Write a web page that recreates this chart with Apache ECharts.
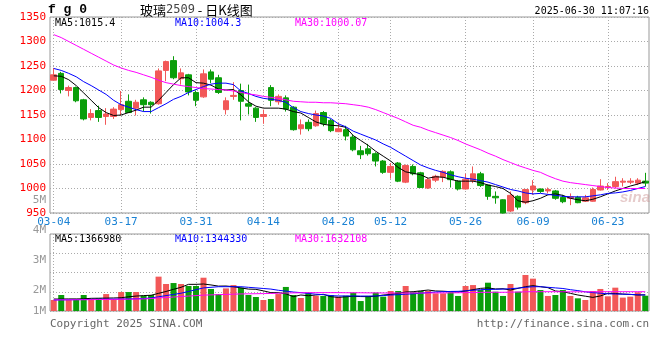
<!DOCTYPE html>
<html><head><meta charset="utf-8">
<script src="https://cdn.jsdelivr.net/npm/echarts@6/dist/echarts.min.js"></script>
<style>html,body{margin:0;padding:0;background:#fff}#c{width:660px;height:360px}</style>
</head><body><div id="c"></div>
<script>
const dates = ['03-04','03-05','03-06','03-07','03-10','03-11','03-12','03-13','03-14','03-17',
'03-18','03-19','03-20','03-21','03-24','03-25','03-26','03-27','03-28','03-31',
'04-01','04-02','04-03','04-07','04-08','04-09','04-10','04-11','04-14','04-15',
'04-16','04-17','04-18','04-21','04-22','04-23','04-24','04-25','04-28','04-29',
'04-30','05-06','05-07','05-08','05-09','05-12','05-13','05-14','05-15','05-16',
'05-19','05-20','05-21','05-22','05-23','05-26','05-27','05-28','05-29','05-30',
'06-03','06-04','06-05','06-06','06-09','06-10','06-11','06-12','06-13','06-16',
'06-17','06-18','06-19','06-20','06-23','06-24','06-25','06-26','06-27','06-30'];
const shownLabels = ['03-04','03-17','03-31','04-14','04-28','05-12','05-26','06-09','06-23'];
const priceTicks = {min: 950, max: 1350, interval: 50};

const opens = [1221,1235,1200,1206,1181,1145,1159,1147,1147,1161,
1178,1164,1181,1176,1173,1241,1261,1224,1232,1196,
1187,1238,1226,1161,1188,1200,1173,1164,1147,1206,
1177,1185,1166,1122,1135,1128,1155,1139,1116,1120,
1105,1077,1081,1071,1056,1033,1052,1013,1045,1032,
1001,1017,1023,1034,1015,999,1016,1030,1007,984,
977,954,984,971,997,999,995,995,982,980,
982,974,974,997,1002,1004,1013,1013,1011,1015];
const closes = [1232,1202,1206,1179,1142,1153,1145,1152,1162,1171,
1155,1176,1171,1171,1240,1259,1226,1236,1197,1180,
1234,1223,1196,1179,1190,1178,1168,1145,1151,1180,
1188,1162,1120,1130,1122,1153,1132,1118,1122,1107,
1079,1069,1071,1056,1033,1045,1015,1047,1030,1002,
1018,1025,1035,1018,999,1019,1030,1006,984,981,
950,986,962,998,1005,994,998,980,973,983,
971,981,998,1005,1004,1014,1015,1015,1017,1011];
const lows = [1221,1194,1188,1176,1139,1139,1136,1130,1142,1149,
1154,1149,1157,1153,1171,1219,1223,1212,1190,1168,
1185,1215,1193,1151,1181,1139,1151,1136,1132,1168,
1171,1157,1118,1110,1117,1126,1127,1115,1115,1098,
1076,1060,1067,1045,1030,1020,1013,1011,1027,1001,
999,1013,1013,1002,996,998,1011,1003,977,969,
949,952,957,968,987,991,990,977,970,966,
970,973,973,996,997,1000,1004,1009,1007,1004];
const highs = [1246,1238,1210,1208,1183,1162,1169,1164,1166,1199,
1192,1181,1186,1178,1245,1261,1270,1245,1234,1200,
1243,1243,1232,1186,1217,1214,1212,1166,1161,1211,
1192,1190,1168,1141,1141,1159,1158,1142,1134,1128,
1110,1087,1091,1074,1058,1052,1054,1049,1049,1034,
1022,1028,1037,1037,1017,1030,1045,1034,1008,994,
978,994,986,999,1017,1000,1002,997,987,990,
985,987,1002,1019,1011,1024,1021,1021,1021,1032];

const ma5 = [1230,1229,1222,1210,1195,1180,1165,1155,1149,1150,
1155,1160,1166,1166,1180,1196,1212,1226,1226,1216,
1215,1211,1203,1201,1202,1191,1177,1168,1164,1164,
1164,1162,1157,1154,1145,1136,1131,1129,1128,1125,
1108,1098,1088,1076,1066,1056,1043,1034,1031,1028,
1021,1024,1023,1019,1015,1015,1015,1012,1007,1004,
1000,990,975,972,975,980,987,989,986,980,
977,975,978,983,989,995,1000,1005,1009,1014];
const ma10 = [1245,1241,1235,1228,1218,1210,1201,1192,1180,1171,
1166,1161,1157,1157,1165,1173,1182,1188,1196,1202,
1208,1213,1215,1215,1212,1199,1194,1188,1184,1182,
1180,1176,1165,1157,1153,1150,1148,1143,1132,1126,
1117,1111,1105,1099,1091,1084,1075,1066,1057,1048,
1042,1037,1033,1028,1024,1021,1019,1016,1013,1008,
1003,998,995,991,989,990,988,986,984,983,
983,983,985,987,990,991,993,996,1000,1004];
const ma30 = [1314,1308,1300,1292,1284,1276,1268,1260,1252,1246,
1241,1237,1232,1227,1221,1216,1213,1210,1208,1206,
1204,1203,1202,1201,1199,1196,1193,1191,1188,1186,
1184,1181,1178,1177,1176,1176,1175,1175,1174,1173,
1171,1169,1166,1161,1155,1149,1143,1136,1129,1125,
1119,1114,1109,1104,1098,1091,1085,1079,1072,1066,
1059,1053,1047,1042,1037,1033,1026,1020,1015,1012,
1010,1008,1006,1004,1002,1001,1000,1000,1000,1000];

// volume in millions of lots
const vols = [0.93,1.35,0.93,1.01,1.35,1.01,1.07,1.43,1.01,1.60,
1.60,1.60,1.29,1.35,2.90,2.28,2.36,2.28,2.11,2.11,
2.81,1.86,1.43,1.91,2.19,1.97,1.35,1.18,0.93,1.01,
1.43,2.03,1.35,1.10,1.55,1.27,1.27,1.35,1.21,1.29,
1.55,0.84,1.27,1.55,1.21,1.69,1.69,2.11,1.58,1.69,
1.69,1.49,1.49,1.58,1.27,2.11,2.19,1.77,2.39,1.63,
1.27,2.28,1.63,3.04,2.73,1.77,1.27,1.35,1.77,1.27,
1.07,0.93,1.69,1.86,1.24,1.97,1.13,1.21,1.58,1.29];
const volMa5 = [1.01,1.01,1.02,1.02,1.03,1.07,1.08,1.09,1.10,1.12,
1.20,1.26,1.30,1.33,1.49,1.65,1.83,2.00,2.25,2.25,
2.28,2.20,2.10,2.11,2.05,1.95,1.85,1.83,1.70,1.55,
1.55,1.45,1.21,1.35,1.29,1.35,1.41,1.21,1.15,1.20,
1.24,1.22,1.21,1.25,1.35,1.40,1.49,1.60,1.63,1.70,
1.77,1.69,1.67,1.63,1.60,1.69,1.80,1.91,1.95,1.86,
1.88,1.77,1.91,2.05,2.14,2.05,1.97,1.69,1.63,1.49,
1.35,1.25,1.15,1.27,1.49,1.48,1.43,1.40,1.35,1.367];
const volMa10 = [0.93,0.94,0.95,0.96,0.97,0.98,0.99,1.00,1.00,1.01,
1.02,1.03,1.05,1.10,1.20,1.30,1.40,1.50,1.65,1.80,
1.95,2.00,2.05,2.05,2.05,2.05,2.00,1.95,1.90,1.85,
1.75,1.68,1.60,1.55,1.48,1.42,1.38,1.30,1.27,1.27,
1.27,1.26,1.26,1.27,1.30,1.35,1.38,1.42,1.45,1.50,
1.55,1.60,1.63,1.65,1.66,1.70,1.75,1.80,1.82,1.83,
1.85,1.88,1.93,2.00,2.05,2.05,2.00,1.95,1.90,1.80,
1.72,1.62,1.55,1.50,1.45,1.43,1.42,1.40,1.37,1.344];
const volMa30 = [0.93,0.94,0.94,0.95,0.95,0.96,0.97,0.97,0.98,0.99,
1.00,1.01,1.02,1.05,1.10,1.14,1.18,1.22,1.26,1.30,
1.34,1.36,1.38,1.40,1.42,1.44,1.45,1.46,1.47,1.48,
1.50,1.52,1.53,1.54,1.55,1.55,1.55,1.55,1.55,1.54,
1.54,1.54,1.53,1.53,1.52,1.52,1.52,1.52,1.52,1.52,
1.52,1.53,1.53,1.53,1.54,1.55,1.56,1.57,1.58,1.58,
1.58,1.59,1.60,1.62,1.63,1.63,1.63,1.63,1.62,1.62,
1.62,1.62,1.62,1.63,1.63,1.63,1.63,1.63,1.63,1.63];
const volTicks = {min: 0, max: 6.5, interval: 1.625};
const volLabels = [['5M', 200], ['4M', 230], ['3M', 260], ['2M', 290], ['1M', 311]];

const UP = '#f25858', DOWN = '#0a9e0a';
const MONO = '"DejaVu Sans Mono", "Liberation Mono", monospace';

const candleData = dates.map((d, i) => [opens[i], closes[i], lows[i], highs[i]]);
const volData = vols.map((v, i) => ({value: v, itemStyle: {color: closes[i] >= opens[i] ? UP : DOWN}}));
const showLab = (idx, val) => shownLabels.indexOf(val) >= 0;

const chart = echarts.init(document.getElementById('c'), null, {renderer: 'canvas'});
const lineS = (name, data, color, xi, yi) => ({
  name, type: 'line', data, xAxisIndex: xi, yAxisIndex: yi, symbol: 'none', smooth: false,
  lineStyle: {color, width: 1}, itemStyle: {color}, z: 5, silent: true
});
const gText = (text, x, y, color, opts) => Object.assign({
  type: 'text', x, y, style: Object.assign({text, fill: color, font: '10px ' + MONO, textVerticalAlign: 'middle'}, opts || {})
});

chart.setOption({
  animation: false,
  backgroundColor: '#fff',
  grid: [
    {left: 50, right: 11, top: 17, height: 196, show: true, borderColor: '#999', borderWidth: 1},
    {left: 50, right: 11, top: 234, height: 77, show: true, borderColor: '#999', borderWidth: 1}
  ],
  xAxis: [
    {type: 'category', gridIndex: 0, data: dates, boundaryGap: true,
     axisLine: {show: false}, axisTick: {show: false},
     axisLabel: {interval: showLab, color: '#1a82d4', fontFamily: MONO, fontSize: 11, margin: 4},
     splitLine: {show: true, interval: showLab, alignWithLabel: true, lineStyle: {color: '#aaa', type: [1, 2]}}},
    {type: 'category', gridIndex: 1, data: dates, boundaryGap: true,
     axisLine: {show: false}, axisTick: {show: false}, axisLabel: {show: false},
     splitLine: {show: true, interval: showLab, alignWithLabel: true, lineStyle: {color: '#aaa', type: [1, 2]}}}
  ],
  yAxis: [
    {type: 'value', gridIndex: 0, min: priceTicks.min, max: priceTicks.max, interval: priceTicks.interval,
     axisLine: {show: false}, axisTick: {show: false},
     axisLabel: {color: '#f00', fontFamily: MONO, fontSize: 11, margin: 4, formatter: v => String(v)},
     splitLine: {lineStyle: {color: '#aaa', type: [1, 2]}}},
    {type: 'value', gridIndex: 1, min: volTicks.min, max: volTicks.max, interval: volTicks.interval,
     axisLine: {show: false}, axisTick: {show: false}, axisLabel: {show: false},
     splitLine: {lineStyle: {color: '#aaa', type: [1, 2]}}}
  ],
  series: [
    {name: 'K', type: 'candlestick', data: candleData, xAxisIndex: 0, yAxisIndex: 0, barWidth: 6,
     itemStyle: {color: UP, color0: DOWN, borderColor: UP, borderColor0: DOWN, borderWidth: 1}, silent: true},
    lineS('MA5', ma5, '#000', 0, 0),
    lineS('MA10', ma10, '#0000ff', 0, 0),
    lineS('MA30', ma30, '#ff00ff', 0, 0),
    {name: 'VOL', type: 'bar', data: volData, xAxisIndex: 1, yAxisIndex: 1, barWidth: 6, silent: true},
    lineS('VMA5', volMa5, '#000', 1, 1),
    lineS('VMA10', volMa10, '#0000ff', 1, 1),
    lineS('VMA30', volMa30, '#ff00ff', 1, 1)
  ],
  graphic: [
    {type: 'text', x: 48, y: 10, style: {text: 'f g 0', fill: '#000', font: 'bold 13px "Liberation Mono", monospace', textVerticalAlign: 'middle'}},
    {type: 'text', x: 140, y: 10, style: {text: '{a|玻璃}{b|2509}{a| - 日K线图}', textVerticalAlign: 'middle',
      rich: {a: {fill: '#000', font: '13px "Noto Sans CJK SC", sans-serif'}, b: {fill: '#444', font: '12px ' + MONO}}}},
    gText('2025-06-30 11:07:16', 649, 11, '#000', {textAlign: 'right'}),
    gText('MA5:1015.4', 55, 23, '#000'),
    gText('MA10:1004.3', 175, 23, '#0000ff'),
    gText('MA30:1000.07', 295, 23, '#ff00ff'),
    gText('MA5:1366980', 55, 239, '#000'),
    gText('MA10:1344330', 175, 239, '#0000ff'),
    gText('MA30:1632108', 295, 239, '#ff00ff'),
    ...volLabels.map(([t, y]) => gText(t, 46, y, '#999', {textAlign: 'right', font: '11px ' + MONO})),
    gText('Copyright 2025 SINA.COM', 50, 324, '#666', {font: '11px ' + MONO}),
    gText('http://finance.sina.com.cn', 649, 324, '#666', {textAlign: 'right', font: '11px ' + MONO}),
    {type: 'text', x: 620, y: 198, z: 1, style: {text: 'sina', fill: 'rgba(200,140,140,0.45)', font: 'italic bold 15px Arial, sans-serif', textVerticalAlign: 'middle'}}
  ]
});
</script></body></html>
